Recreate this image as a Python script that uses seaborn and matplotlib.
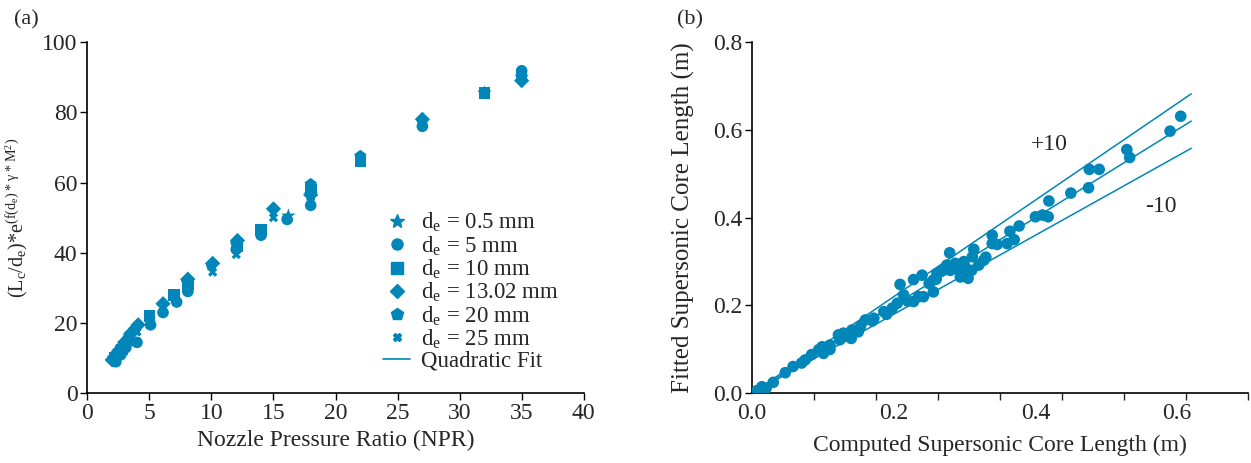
import numpy as np
import pandas as pd
import matplotlib.pyplot as plt
import seaborn as sns
from matplotlib.lines import Line2D

# ---- panel (a): scaled core length vs NPR, one series per exit diameter
npr_05 = [2.2, 2.6, 3.0, 3.4, 3.8, 16.2, 18.0, 32.0, 35.0]
val_05 = [10.0, 12.0, 14.0, 16.0, 18.0, 50.5, 56.5, 85.5, 90.0]

npr_5 = [2.3, 2.7, 3.1, 3.5, 4.0, 5.1, 6.1, 7.2, 8.1, 12.0, 14.0, 16.1, 18.0, 27.0, 35.0]
val_5 = [9.0, 11.0, 13.0, 15.0, 14.5, 19.5, 23.0, 26.0, 29.0, 41.0, 45.0, 49.5, 53.5, 76.0, 91.8]

npr_10 = [2.2, 2.8, 3.4, 5.0, 7.0, 8.1, 12.1, 14.0, 18.0, 22.0, 32.0, 35.0]
val_10 = [10.0, 12.5, 15.5, 22.0, 28.0, 31.0, 42.0, 46.5, 58.0, 66.0, 85.5, 90.5]

npr_1302 = [2.0, 2.5, 3.0, 3.5, 4.1, 6.1, 8.1, 10.1, 12.1, 15.0, 18.0, 27.0, 35.0]
val_1302 = [9.5, 12.0, 14.5, 17.0, 19.5, 25.5, 32.5, 37.0, 43.5, 52.5, 56.5, 78.0, 89.0]

npr_20 = [2.1, 2.7, 3.3, 3.9, 8.0, 10.0, 12.0, 18.0, 22.0, 27.0, 32.0, 35.0]
val_20 = [10.0, 13.0, 15.5, 18.5, 32.0, 36.5, 42.5, 59.5, 67.5, 77.5, 85.5, 90.0]

npr_25 = [2.4, 3.0, 3.6, 4.0, 10.1, 12.0, 15.0, 18.0]
val_25 = [10.5, 13.5, 16.0, 17.5, 34.5, 39.5, 50.0, 56.0]

diam_labels = ["0.5", "5", "10", "13.02", "20", "25"]

# ---- panel (b): fitted vs computed supersonic core length (m)
computed = [0.007, 0.014, 0.02, 0.03, 0.047, 0.058, 0.070, 0.075, 0.084, 0.094,
            0.099, 0.101, 0.110, 0.11, 0.122, 0.124, 0.129, 0.13, 0.14, 0.141,
            0.15, 0.153, 0.160, 0.17, 0.172, 0.186, 0.19, 0.198, 0.205, 0.209,
            0.214, 0.22, 0.228, 0.228, 0.235, 0.240, 0.242, 0.25, 0.256, 0.256,
            0.26, 0.261, 0.266, 0.27, 0.275, 0.279, 0.28, 0.287, 0.294, 0.294,
            0.299, 0.30, 0.305, 0.31, 0.311, 0.313, 0.320, 0.327, 0.33, 0.339,
            0.339, 0.346, 0.360, 0.364, 0.370, 0.377, 0.400, 0.410, 0.418, 0.419,
            0.450, 0.475, 0.476, 0.490, 0.529, 0.533, 0.590, 0.605]
fitted = [0.006, 0.015, 0.012, 0.025, 0.047, 0.061, 0.069, 0.076, 0.088, 0.099,
          0.106, 0.091, 0.110, 0.10, 0.133, 0.122, 0.137, 0.13, 0.125, 0.144,
          0.14, 0.152, 0.167, 0.165, 0.171, 0.186, 0.18, 0.194, 0.205, 0.248,
          0.224, 0.21, 0.259, 0.209, 0.22, 0.269, 0.220, 0.25, 0.258, 0.231,
          0.26, 0.273, 0.277, 0.28, 0.292, 0.320, 0.28, 0.296, 0.265, 0.277,
          0.300, 0.29, 0.262, 0.28, 0.311, 0.328, 0.292, 0.303, 0.31, 0.360,
          0.341, 0.339, 0.341, 0.369, 0.350, 0.381, 0.402, 0.406, 0.402, 0.438,
          0.456, 0.468, 0.510, 0.510, 0.555, 0.537, 0.597, 0.631]

band_slopes = [1.1, 1.0, 0.9]
band_xmax = 0.62

blue = "#0086B8"

sns.set_style("ticks")
plt.rcParams["font.family"] = ["Liberation Serif", "DejaVu Serif"]
plt.rcParams["mathtext.default"] = "regular"

fig = plt.figure(figsize=(12.51, 4.63), dpi=100)
ax1 = fig.add_axes([0.0698, 0.1505, 0.3968, 0.7588])
ax2 = fig.add_axes([0.6011, 0.1505, 0.3965, 0.7588])

series = [
    (npr_05, val_05, "*", 120),
    (npr_5, val_5, "o", 70),
    (npr_10, val_10, "s", 70),
    (npr_1302, val_1302, "D", 60),
    (npr_20, val_20, "p", 85),
    (npr_25, val_25, "X", 45),
]
handles = []
for (x, y, m, s), lab in zip(series, diam_labels):
    df = pd.DataFrame({"NPR": x, "val": y})
    sns.scatterplot(data=df, x="NPR", y="val", marker=m, s=s, color=blue,
                    edgecolor="none", ax=ax1, legend=False)
    handles.append(Line2D([], [], marker=m, linestyle="none", color=blue,
                          markersize=np.sqrt(s) * 0.95,
                          label=f"d$_e$ = {lab} mm"))
handles.append(Line2D([], [], color=blue, lw=1.2, label="Quadratic Fit"))

ax1.set_xlim(0, 40)
ax1.set_ylim(0, 100)
ax1.set_xticks(range(0, 41, 5))
ax1.set_yticks(range(0, 101, 20))
ax1.set_xlabel("Nozzle Pressure Ratio (NPR)", fontsize=17)
ax1.set_ylabel(r"(L$_c$/d$_e$)*e$^{(f(d_e)*\gamma*M^2)}$", fontsize=14.5,
               labelpad=8)
ax1.legend(handles=handles, loc="lower left", bbox_to_anchor=(0.577, 0.035),
           frameon=False, fontsize=16.5, labelspacing=0.0, handletextpad=0.45,
           handlelength=1.2, borderaxespad=0)

# panel b
dfb = pd.DataFrame({"computed": computed, "fitted": fitted})
xs = np.array([0.0, band_xmax])
for k in band_slopes:
    sns.lineplot(x=xs, y=k * xs, color=blue, lw=1.1, ax=ax2)
sns.scatterplot(data=dfb, x="computed", y="fitted", color=blue, s=70,
                edgecolor="none", ax=ax2, zorder=3)
ax2.text(0.42, 0.566, "+10", fontsize=17, ha="center", va="center")
ax2.text(0.577, 0.426, "-10", fontsize=17, ha="center", va="center")
ax2.set_xlim(0, 0.7)
ax2.set_ylim(0, 0.8)
ax2.set_xticks([0.0, 0.2, 0.4, 0.6])
ax2.set_xticks(np.linspace(0, 0.7, 9), minor=True)
ax2.tick_params(axis="x", which="minor", length=5, width=1)
ax2.set_yticks([0.0, 0.2, 0.4, 0.6, 0.8])
ax2.xaxis.set_major_formatter(plt.FormatStrFormatter("%.1f"))
ax2.yaxis.set_major_formatter(plt.FormatStrFormatter("%.1f"))
ax2.set_xlabel("Computed Supersonic Core Length (m)", fontsize=17, labelpad=8)
ax2.set_ylabel("Fitted Supersonic Core Length (m)", fontsize=18, labelpad=13)

for ax in (ax1, ax2):
    sns.despine(ax=ax)
    ax.tick_params(labelsize=17, length=5, width=1, color="black", pad=2)
    for sp in ax.spines.values():
        sp.set_color("black")
        sp.set_linewidth(1.2)
ax2.tick_params(axis="x", which="major", length=0, pad=7)

fig.text(0.011, 0.948, "(a)", fontsize=16)
fig.text(0.541, 0.948, "(b)", fontsize=16)

fig.savefig("out.png", dpi=100)
